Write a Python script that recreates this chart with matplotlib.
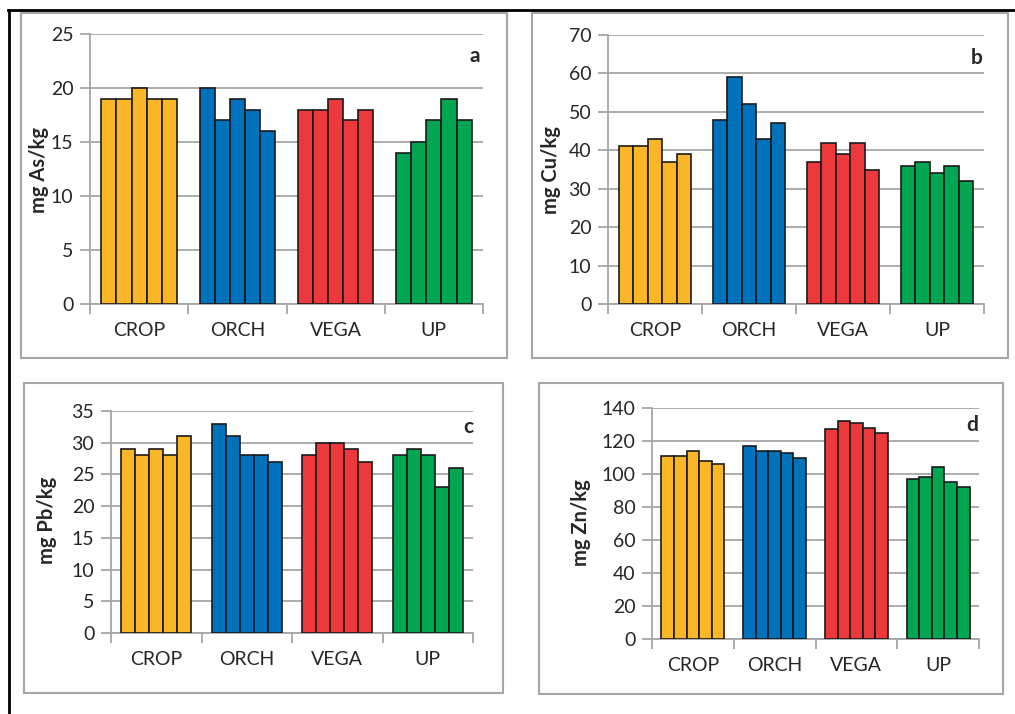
import numpy as np
import matplotlib
matplotlib.use("Agg")
import matplotlib.pyplot as plt
from matplotlib.patches import Rectangle
from matplotlib.lines import Line2D

plt.rcParams["font.family"] = ["Lato", "DejaVu Sans"]

categories = ["CROP", "ORCH", "VEGA", "UP"]
colors = ["#FBB627", "#0072BC", "#ED383C", "#00A651"]

as_values = [[19, 19, 20, 19, 19], [20, 17, 19, 18, 16],
             [18, 18, 19, 17, 18], [14, 15, 17, 19, 17]]
cu_values = [[41, 41, 43, 37, 39], [48, 59, 52, 43, 47],
             [37, 42, 39, 42, 35], [36, 37, 34, 36, 32]]
pb_values = [[29, 28, 29, 28, 31], [33, 31, 28, 28, 27],
             [28, 30, 30, 29, 27], [28, 29, 28, 23, 26]]
zn_values = [[111, 111, 114, 108, 106], [117, 114, 114, 113, 110],
             [127, 132, 131, 128, 125], [97, 98, 104, 95, 92]]

W, H = 1015, 714
fig = plt.figure(figsize=(W / 100, H / 100), dpi=100)

GRID = "#A6A6A6"
TEXT = "#262626"


def fig_rect(left, top, right, bottom):
    # pixel box (from top-left) -> figure fraction [x, y, w, h]
    return [left / W, 1 - bottom / H, (right - left) / W, (bottom - top) / H]


# outer black frame lines (top and left)
fig.add_artist(Line2D([8 / W, 1], [1 - 10 / H, 1 - 10 / H], color="black", lw=2))
fig.add_artist(Line2D([9 / W, 9 / W], [1 - 10 / H, 0], color="black", lw=2))

# gray chart-area frames
for box in [(21, 13, 507, 358), (532, 13, 1008, 358),
            (24, 383, 503, 693), (539, 383, 1003, 694)]:
    x, y, w, h = fig_rect(*box)
    fig.add_artist(Rectangle((x, y), w, h, transform=fig.transFigure,
                             fill=False, edgecolor=GRID, lw=1.5))

# label anchor x is the right edge of the rotated label
panels = [
    (as_values, (90, 34, 483, 304), 25, 5, "mg As/kg", "a", (49, 170), (480, 56)),
    (cu_values, (608, 35, 984, 304), 70, 10, "mg Cu/kg", "b", (561, 170), (983, 58)),
    (pb_values, (111, 411, 473, 633), 35, 5, "mg Pb/kg", "c", (57, 520), (473, 427)),
    (zn_values, (652, 408, 979, 639), 140, 20, "mg Zn/kg", "d", (591, 523), (978, 425)),
]

n = 5
group = 1 / 1.3
bw = group / n

for values, box, ymax, step, ylabel, letter, lab_pos, let_pos in panels:
    left, top, right, bottom = box
    ax = fig.add_axes(fig_rect(*box))
    for i, (vals, c) in enumerate(zip(values, colors)):
        xs = i - group / 2 + bw * (np.arange(n) + 0.5)
        ax.bar(xs, vals, width=bw, color=c, edgecolor="#1A1A1A", lw=1.2, zorder=3)

    ax.set_xlim(-0.5, len(categories) - 0.5)
    ax.set_ylim(0, ymax)
    ax.set_yticks(np.arange(0, ymax + step, step))
    ax.yaxis.grid(True, color=GRID, lw=1.3, zorder=0)
    ax.set_axisbelow(True)

    # category ticks sit between groups, labels centered
    ax.set_xticks(np.arange(-0.5, len(categories), 1))
    ax.set_xticklabels([])
    ax.set_xticks(np.arange(len(categories)), minor=True)
    ax.set_xticklabels(categories, minor=True)
    ax.tick_params(axis="x", which="major", length=7, width=1.3, color=GRID)
    ax.tick_params(axis="x", which="minor", length=0, pad=13, labelsize=14,
                   labelcolor=TEXT)
    ax.tick_params(axis="y", length=7, width=1.3, color=GRID, pad=5,
                   labelsize=14, labelcolor=TEXT)

    for s in ["top", "right"]:
        ax.spines[s].set_visible(False)
    for s in ["left", "bottom"]:
        ax.spines[s].set_color(GRID)
        ax.spines[s].set_linewidth(1.3)

    ax.set_ylabel(ylabel, fontsize=14.5, fontweight="bold", color=TEXT)
    ax.yaxis.set_label_coords((lab_pos[0] - left) / (right - left),
                              (bottom - lab_pos[1]) / (bottom - top))
    ax.text((let_pos[0] - left) / (right - left),
            (bottom - let_pos[1]) / (bottom - top),
            letter, transform=ax.transAxes, ha="right", va="center",
            fontsize=15, fontweight="bold", color=TEXT)

fig.savefig("out.png", dpi=100)
